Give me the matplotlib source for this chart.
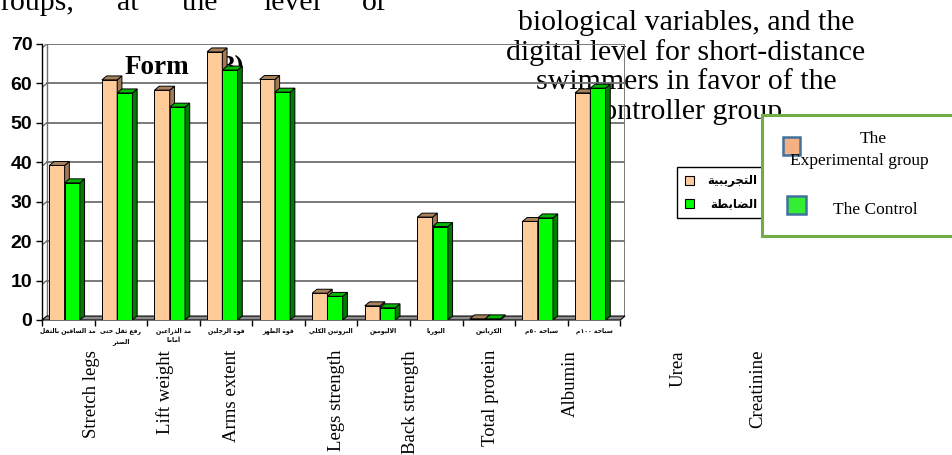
import re
import numpy as np
import matplotlib
matplotlib.use("Agg")
import matplotlib.pyplot as plt
from matplotlib.patches import Rectangle, Polygon, Patch

# values per variable (experimental / control)
categories_ar = [
    "مد الساقين بالثقل",
    "رفع ثقل حتى\nالصدر",
    "مد الذراعين\nأماما",
    "قوة الرجلين",
    "قوة الظهر",
    "البروتين الكلي",
    "الالبومين",
    "اليوريا",
    "الكرياتين",
    "سباحة ٥٠م",
    "سباحة ١٠٠م",
]
experimental = [39.2, 60.9, 58.3, 68.0, 61.0, 6.8, 3.6, 26.1, 0.3, 25.0, 57.6]
control = [34.8, 57.6, 54.0, 63.4, 57.8, 6.0, 3.1, 23.7, 0.3, 25.9, 58.8]
series_ar = ["التجريبية", "الضابطة"]
yticks = [0, 10, 20, 30, 40, 50, 60, 70]

labels_en = ["Stretch legs", "Lift weight", "Arms extent", "Legs strength",
             "Back strength", "Total protein", "Albumin", "Urea", "Creatinine"]
labels_en_x = [92, 165, 232, 337, 411, 491, 570, 678, 758]

W, H = 953, 455

# presentation forms: isolated, final, initial, medial
FORMS = {
    'ا': (0xFE8D, 0xFE8E, None, None),
    'أ': (0xFE83, 0xFE84, None, None),
    'ب': (0xFE8F, 0xFE90, 0xFE91, 0xFE92),
    'ة': (0xFE93, 0xFE94, None, None),
    'ت': (0xFE95, 0xFE96, 0xFE97, 0xFE98),
    'ث': (0xFE99, 0xFE9A, 0xFE9B, 0xFE9C),
    'ج': (0xFE9D, 0xFE9E, 0xFE9F, 0xFEA0),
    'ح': (0xFEA1, 0xFEA2, 0xFEA3, 0xFEA4),
    'د': (0xFEA9, 0xFEAA, None, None),
    'ذ': (0xFEAB, 0xFEAC, None, None),
    'ر': (0xFEAD, 0xFEAE, None, None),
    'س': (0xFEB1, 0xFEB2, 0xFEB3, 0xFEB4),
    'ص': (0xFEB9, 0xFEBA, 0xFEBB, 0xFEBC),
    'ض': (0xFEBD, 0xFEBE, 0xFEBF, 0xFEC0),
    'ط': (0xFEC1, 0xFEC2, 0xFEC3, 0xFEC4),
    'ظ': (0xFEC5, 0xFEC6, 0xFEC7, 0xFEC8),
    'ع': (0xFEC9, 0xFECA, 0xFECB, 0xFECC),
    'ف': (0xFED1, 0xFED2, 0xFED3, 0xFED4),
    'ق': (0xFED5, 0xFED6, 0xFED7, 0xFED8),
    'ك': (0xFED9, 0xFEDA, 0xFEDB, 0xFEDC),
    'ل': (0xFEDD, 0xFEDE, 0xFEDF, 0xFEE0),
    'م': (0xFEE1, 0xFEE2, 0xFEE3, 0xFEE4),
    'ن': (0xFEE5, 0xFEE6, 0xFEE7, 0xFEE8),
    'ه': (0xFEE9, 0xFEEA, 0xFEEB, 0xFEEC),
    'و': (0xFEED, 0xFEEE, None, None),
    'ى': (0xFEEF, 0xFEF0, None, None),
    'ي': (0xFEF1, 0xFEF2, 0xFEF3, 0xFEF4),
}
LAM_ALEF = {'ا': (0xFEFB, 0xFEFC), 'أ': (0xFEF7, 0xFEF8)}


def shape_line(line):
    # matplotlib has no arabic shaping, so join letters by hand
    toks = []
    i = 0
    while i < len(line):
        c = line[i]
        if c == 'ل' and i + 1 < len(line) and line[i + 1] in LAM_ALEF:
            toks.append(('LA', line[i + 1]))
            i += 2
        else:
            toks.append((c, None))
            i += 1
    out = []
    for k, (c, extra) in enumerate(toks):
        prev = toks[k - 1][0] if k > 0 else None
        nxt = toks[k + 1][0] if k + 1 < len(toks) else None
        joins_prev = prev in FORMS and FORMS[prev][2] is not None
        if c == 'LA':
            out.append(chr(LAM_ALEF[extra][1 if joins_prev else 0]))
            continue
        if c not in FORMS:
            out.append(c)
            continue
        iso, fin, ini, med = FORMS[c]
        joins_next = ini is not None and (nxt in FORMS or nxt == 'LA')
        if joins_prev and joins_next:
            g = med
        elif joins_prev:
            g = fin
        elif joins_next:
            g = ini
        else:
            g = iso
        out.append(chr(g))
    # right to left, digits stay left to right
    runs = re.findall(r'[\u0660-\u0669]+|[^\u0660-\u0669]', ''.join(out))
    return ''.join(reversed(runs))


def shape(text):
    return "\n".join(shape_line(l) for l in text.split("\n"))


def px(x, y):
    return x / W, 1 - y / H


fig = plt.figure(figsize=(W / 100, H / 100), dpi=100)
fig.patch.set_facecolor("white")

serif = "Liberation Serif"

# page text behind the chart
for word, x in zip(["roups,", "at", "the", "level", "of"], [0, 117, 182, 263, 362]):
    fig.text(*px(x, 10), word, family=serif, fontsize=21.5, va="baseline", zorder=0.5)
title_lines = ["biological variables, and the", "digital level for short-distance",
               "swimmers in favor of the", "controller group"]
for k, line in enumerate(title_lines):
    fig.text(*px(686, 30 + 29.7 * k), line, family=serif, fontsize=21.5,
             ha="center", va="baseline", zorder=0.5)
fig.text(*px(125, 74), "Form", family=serif, fontsize=19.5, weight="bold",
         va="baseline", zorder=0.5)
fig.text(*px(222, 74), "3)", family=serif, fontsize=19.5, weight="bold",
         va="baseline", zorder=0.5)

ax = fig.add_axes([42 / W, 1 - 320 / H, 583 / W, 276 / H])
ax.set_zorder(1)
ax.patch.set_facecolor("none")

n = len(experimental)
x = np.arange(n)
dx, dy = 0.09, 1.0
ax.set_xlim(-0.5, n - 0.5 + dx)
ax.set_ylim(0, 70)

# back wall grid
for v in yticks[1:]:
    ax.plot([-0.5 + dx, n - 0.5 + dx], [v, v], color="#6f6f6f", lw=1.3, zorder=1)
    ax.plot([-0.5, -0.5 + dx], [v - dy, v], color="#6f6f6f", lw=1.0, zorder=1)
ax.plot([n - 0.5 + dx, n - 0.5 + dx], [dy, 70], color="#6f6f6f", lw=1.3, zorder=1)
ax.plot([-0.5 + dx, -0.5 + dx], [dy, 70], color="#6f6f6f", lw=1.0, zorder=1)

# floor
ax.add_patch(Polygon([(-0.5, 0), (n - 0.5, 0), (n - 0.5 + dx, dy), (-0.5 + dx, dy)],
                     closed=True, fc="#8c8c8c", ec="black", lw=0.8, zorder=2,
                     clip_on=False))


def bar3d(x0, w, h, face, side, top, z):
    x1 = x0 + w
    kw = dict(ec="black", lw=0.7, zorder=z, joinstyle="miter")
    ax.add_patch(Rectangle((x0, 0), w, h, fc=face, **kw))
    ax.add_patch(Polygon([(x1, 0), (x1 + dx, dy), (x1 + dx, h + dy), (x1, h)],
                         closed=True, fc=side, **kw))
    ax.add_patch(Polygon([(x0, h), (x1, h), (x1 + dx, h + dy), (x0 + dx, h + dy)],
                         closed=True, fc=top, **kw))


bw = 0.29
for i in range(n):
    bar3d(x[i] - 0.36, bw, experimental[i], "#FFCC99", "#9E7A55", "#A8825C", 3)
    bar3d(x[i] - 0.07, bw, control[i], "#00FF00", "#007A00", "#00B800", 4)

ax.spines[["top", "right", "bottom"]].set_visible(False)
ax.spines["left"].set_linewidth(1.0)
ax.set_yticks(yticks)
ax.set_yticklabels([str(v) for v in yticks], family="Liberation Sans",
                   weight="bold", fontsize=14)
ax.tick_params(axis="y", length=4, width=1, pad=3)
ax.set_xticks(np.arange(-0.5, n, 1.0))
ax.set_xticklabels([])
ax.tick_params(axis="x", length=4, width=1, direction="out")

for i, lab in enumerate(categories_ar):
    ax.text(x[i], -7.5 / 3.943, shape(lab), ha="center", va="top",
            family=["DejaVu Sans"], weight="bold", fontsize=4.4,
            linespacing=1.7, transform=ax.transData, clip_on=False)

# arabic legend, drawn as a framed box with squares and labels
fig.patches.append(Rectangle(px(677, 218), 88 / W, 51 / H, transform=fig.transFigure,
                             fc="white", ec="black", lw=1.0, zorder=3))
for k, (lab, col) in enumerate(zip(series_ar, ["#FFCC99", "#00FF00"])):
    yc = 181 + 23 * k
    fig.patches.append(Rectangle(px(685, yc + 4), 9 / W, 9 / H,
                                 transform=fig.transFigure, fc=col, ec="black",
                                 lw=0.8, zorder=3.1))
    fig.text(*px(757, yc), shape(lab), family="DejaVu Sans", weight="bold",
             fontsize=8.5, ha="right", va="center", zorder=3.2)

# english labels under the chart
for lab, lx in zip(labels_en, labels_en_x):
    fig.text(*px(lx, 350), lab, family=serif, fontsize=13.5, rotation=90,
             ha="center", va="top", zorder=3)

# english legend box on the right
fig.patches.append(Rectangle(px(762, 236), 200 / W, 121 / H, transform=fig.transFigure,
                             fc="white", ec="#70AD47", lw=2.2, zorder=4))
fig.patches.append(Rectangle(px(783, 155), 17 / W, 18 / H, transform=fig.transFigure,
                             fc="#F4B183", ec="#41719C", lw=1.8, zorder=5))
fig.patches.append(Rectangle(px(787, 214), 19 / W, 18 / H, transform=fig.transFigure,
                             fc="#33EE33", ec="#41719C", lw=1.8, zorder=5))
fig.text(*px(873, 143), "The", family=serif, fontsize=12.5, ha="center",
         va="baseline", zorder=6)
fig.text(*px(859, 165), "Experimental group", family=serif, fontsize=12.5,
         ha="center", va="baseline", zorder=6)
fig.text(*px(875, 214), "The Control", family=serif, fontsize=12.5, ha="center",
         va="baseline", zorder=6)

fig.savefig("out.png", dpi=100, facecolor="white")
